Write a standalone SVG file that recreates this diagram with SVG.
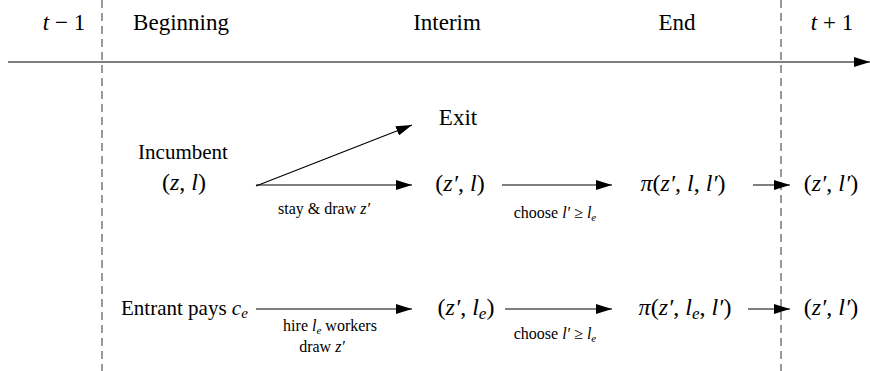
<svg xmlns="http://www.w3.org/2000/svg" width="870" height="371" viewBox="0 0 870 371">
<defs>
<marker id="ah" markerUnits="userSpaceOnUse" markerWidth="16" markerHeight="10" refX="16" refY="5" orient="auto">
<path d="M0,0 L16,5 L0,10 z" fill="#000"/>
</marker>
</defs>
<g id="timeline">
<g stroke="#333" stroke-width="1" stroke-dasharray="8 5" fill="none">
<line x1="102" y1="0" x2="102" y2="371"/>
<line x1="781" y1="0" x2="781" y2="371"/>
</g>
<line x1="8" y1="62" x2="870" y2="62" stroke="#000" stroke-width="1.2" marker-end="url(#ah)"/>
<text font-family="Times New Roman, Liberation Serif, DejaVu Serif, serif" font-size="23" text-anchor="middle" x="64" y="30"><tspan font-style="italic">t</tspan> − 1</text>
<text font-family="Times New Roman, Liberation Serif, DejaVu Serif, serif" font-size="23" text-anchor="middle" x="181" y="30">Beginning</text>
<text font-family="Times New Roman, Liberation Serif, DejaVu Serif, serif" font-size="23" text-anchor="middle" x="447" y="30">Interim</text>
<text font-family="Times New Roman, Liberation Serif, DejaVu Serif, serif" font-size="23" text-anchor="middle" x="677" y="30">End</text>
<text font-family="Times New Roman, Liberation Serif, DejaVu Serif, serif" font-size="23" text-anchor="middle" x="832" y="30"><tspan font-style="italic">t</tspan> + 1</text>
</g>
<g id="connectors">
<g stroke="#000" stroke-width="1.2" fill="none" marker-end="url(#ah)">
<line x1="256" y1="186" x2="412" y2="125"/>
<line x1="256" y1="185" x2="412" y2="185"/>
<line x1="502" y1="185" x2="612" y2="185"/>
<line x1="753" y1="185" x2="790" y2="185"/>
<line x1="256" y1="309" x2="412" y2="309"/>
<line x1="505" y1="309" x2="612" y2="309"/>
<line x1="748" y1="309" x2="790" y2="309"/>
</g>
<text font-family="Times New Roman, Liberation Serif, DejaVu Serif, serif" font-size="16" text-anchor="middle" x="324" y="214">stay &amp; draw <tspan font-style="italic">z′</tspan></text>
<text font-family="Times New Roman, Liberation Serif, DejaVu Serif, serif" font-size="16" text-anchor="middle" x="555" y="218">choose <tspan font-style="italic">l′</tspan> ≥ <tspan font-style="italic">l</tspan><tspan font-style="italic" font-size="11" dy="3">e</tspan></text>
<text font-family="Times New Roman, Liberation Serif, DejaVu Serif, serif" font-size="16" text-anchor="middle" x="330" y="331">hire <tspan font-style="italic">l</tspan><tspan font-style="italic" font-size="11" dy="3">e</tspan><tspan dy="-3"> workers</tspan></text>
<text font-family="Times New Roman, Liberation Serif, DejaVu Serif, serif" font-size="16" text-anchor="middle" x="322" y="352">draw <tspan font-style="italic">z′</tspan></text>
<text font-family="Times New Roman, Liberation Serif, DejaVu Serif, serif" font-size="16" text-anchor="middle" x="555" y="339">choose <tspan font-style="italic">l′</tspan> ≥ <tspan font-style="italic">l</tspan><tspan font-style="italic" font-size="11" dy="3">e</tspan></text>
</g>
<g id="exit"><text font-family="Times New Roman, Liberation Serif, DejaVu Serif, serif" font-size="23" text-anchor="middle" x="458" y="125">Exit</text></g>
<g id="incumbent">
<text font-family="Times New Roman, Liberation Serif, DejaVu Serif, serif" font-size="21" text-anchor="middle" x="183" y="159">Incumbent</text>
<text font-family="Times New Roman, Liberation Serif, DejaVu Serif, serif" font-size="24" text-anchor="middle" x="184" y="190">(<tspan font-style="italic">z</tspan>, <tspan font-style="italic">l</tspan>)</text>
</g>
<g id="interim1"><text font-family="Times New Roman, Liberation Serif, DejaVu Serif, serif" font-size="24" text-anchor="middle" x="460" y="191">(<tspan font-style="italic">z′</tspan>, <tspan font-style="italic">l</tspan>)</text></g>
<g id="end1"><text font-family="Times New Roman, Liberation Serif, DejaVu Serif, serif" font-size="24" text-anchor="middle" x="683" y="191"><tspan font-style="italic">π</tspan>(<tspan font-style="italic">z′</tspan>, <tspan font-style="italic">l</tspan>, <tspan font-style="italic">l′</tspan>)</text></g>
<g id="next1"><text font-family="Times New Roman, Liberation Serif, DejaVu Serif, serif" font-size="24" text-anchor="middle" x="831" y="191">(<tspan font-style="italic">z′</tspan>, <tspan font-style="italic">l′</tspan>)</text></g>
<g id="entrant"><text font-family="Times New Roman, Liberation Serif, DejaVu Serif, serif" font-size="21" x="121" y="315">Entrant pays <tspan font-style="italic">c</tspan><tspan font-style="italic" font-size="15" dy="3">e</tspan></text></g>
<g id="interim2"><text font-family="Times New Roman, Liberation Serif, DejaVu Serif, serif" font-size="24" text-anchor="middle" x="466" y="315">(<tspan font-style="italic">z′</tspan>, <tspan font-style="italic">l</tspan><tspan font-style="italic" font-size="17" dy="4">e</tspan><tspan dy="-4">)</tspan></text></g>
<g id="end2"><text font-family="Times New Roman, Liberation Serif, DejaVu Serif, serif" font-size="24" text-anchor="middle" x="685" y="315"><tspan font-style="italic">π</tspan>(<tspan font-style="italic">z′</tspan>, <tspan font-style="italic">l</tspan><tspan font-style="italic" font-size="17" dy="4">e</tspan><tspan dy="-4">, </tspan><tspan font-style="italic">l′</tspan>)</text></g>
<g id="next2"><text font-family="Times New Roman, Liberation Serif, DejaVu Serif, serif" font-size="24" text-anchor="middle" x="831" y="315">(<tspan font-style="italic">z′</tspan>, <tspan font-style="italic">l′</tspan>)</text></g>
</svg>
